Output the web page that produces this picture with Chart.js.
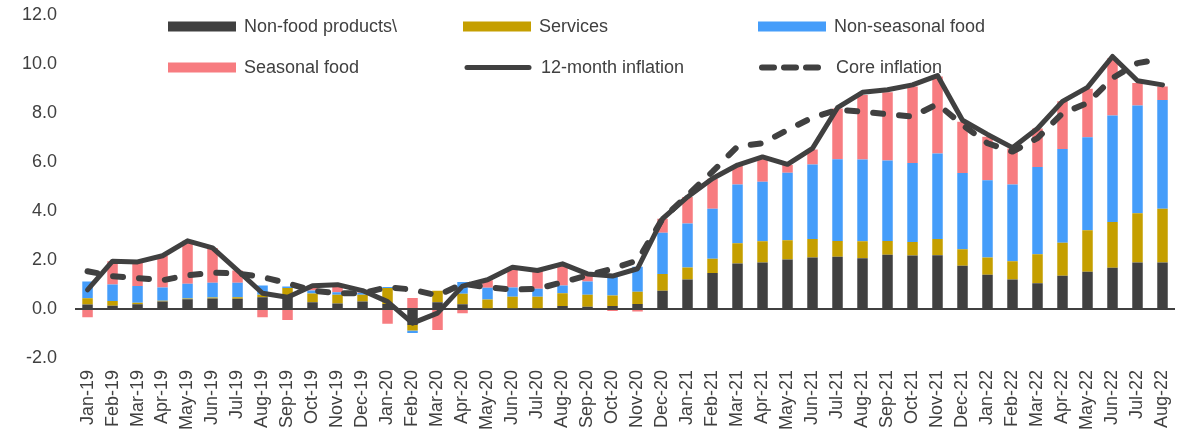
<!DOCTYPE html>
<html>
<head>
<meta charset="utf-8">
<script src="https://cdn.jsdelivr.net/npm/chart.js@4.4.0/dist/chart.umd.min.js"></script>
<style>
    html, body { margin: 0; padding: 0; background: #ffffff; }
    #wrap { position: relative; width: 1190px; height: 430px; }
    #legend { position: absolute; left: 0; top: 0; width: 100%; height: 0; }
    .leg-item {
        position: absolute;
        display: flex;
        align-items: center;
        font: 18px "Liberation Sans", Arial, sans-serif;
        color: #404040;
        white-space: nowrap;
        transform: translateY(-50%);
    }
    .leg-item svg { margin-right: 8px; }
</style>
</head>
<body>
<div id="wrap">
    <canvas id="chartInflacao" width="1190" height="430"></canvas>
    <div id="legend"></div>
</div>
<script>
// Contribuições à inflação de 12 meses (p.p.)

const meses = [
    'Jan-19', 'Feb-19', 'Mar-19', 'Apr-19', 'May-19', 'Jun-19', 'Jul-19', 'Aug-19', 'Sep-19', 'Oct-19', 'Nov-19', 'Dec-19',
    'Jan-20', 'Feb-20', 'Mar-20', 'Apr-20', 'May-20', 'Jun-20', 'Jul-20', 'Aug-20', 'Sep-20', 'Oct-20', 'Nov-20', 'Dec-20',
    'Jan-21', 'Feb-21', 'Mar-21', 'Apr-21', 'May-21', 'Jun-21', 'Jul-21', 'Aug-21', 'Sep-21', 'Oct-21', 'Nov-21', 'Dec-21',
    'Jan-22', 'Feb-22', 'Mar-22', 'Apr-22', 'May-22', 'Jun-22', 'Jul-22', 'Aug-22'
];

const naoAlimentos = [
    0.18, 0.13, 0.19, 0.30, 0.40, 0.43, 0.42, 0.48, 0.55, 0.27, 0.22, 0.30,
    0.20, -0.65, 0.27, 0.19, 0.02, 0.03, 0.03, 0.12, 0.09, 0.12, 0.20, 0.74,
    1.20, 1.47, 1.85, 1.89, 2.02, 2.10, 2.13, 2.07, 2.21, 2.18, 2.19, 1.76,
    1.40, 1.20, 1.05, 1.35, 1.52, 1.68, 1.89, 1.89
];

const servicos = [
    0.26, 0.19, 0.06, 0.03, 0.03, 0.04, 0.06, 0.10, 0.30, 0.36, 0.36, 0.28,
    0.65, -0.23, 0.47, 0.43, 0.37, 0.47, 0.47, 0.52, 0.49, 0.43, 0.50, 0.69,
    0.49, 0.58, 0.83, 0.87, 0.78, 0.75, 0.64, 0.69, 0.56, 0.55, 0.66, 0.68,
    0.70, 0.75, 1.18, 1.35, 1.69, 1.87, 2.01, 2.20
];

const alimNaoSazonais = [
    0.68, 0.68, 0.69, 0.55, 0.60, 0.60, 0.59, 0.38, 0.07, 0.12, 0.10, 0.08,
    0.05, -0.10, 0.00, 0.48, 0.48, 0.38, 0.32, 0.32, 0.54, 0.85, 1.02, 1.68,
    1.80, 2.04, 2.40, 2.43, 2.76, 3.04, 3.34, 3.34, 3.29, 3.22, 3.49, 3.11,
    3.15, 3.13, 3.56, 3.83, 3.79, 4.34, 4.40, 4.43
];

const alimSazonais = [
    -0.34, 0.95, 0.98, 1.29, 1.75, 1.42, 0.50, -0.34, -0.45, 0.20, 0.30, 0.09,
    -0.60, 0.45, -0.86, -0.18, 0.30, 0.82, 0.75, 0.86, 0.30, -0.08, -0.10, 0.57,
    1.08, 1.22, 0.79, 1.00, 0.31, 0.61, 2.07, 2.63, 2.78, 3.12, 3.14, 2.09,
    1.77, 1.47, 1.57, 1.94, 1.98, 2.34, 0.92, 0.56
];

const inflacao12m = [
    0.78, 1.95, 1.92, 2.17, 2.78, 2.49, 1.57, 0.64, 0.48, 0.95, 0.99, 0.75,
    0.30, -0.58, -0.17, 0.93, 1.19, 1.70, 1.57, 1.84, 1.43, 1.34, 1.64, 3.68,
    4.57, 5.32, 5.87, 6.20, 5.90, 6.55, 8.21, 8.84, 8.94, 9.14, 9.52, 7.70,
    7.12, 6.58, 7.36, 8.47, 9.04, 10.30, 9.31, 9.14
];

const nucleo = [
    1.54, 1.34, 1.26, 1.17, 1.37, 1.48, 1.45, 1.30, 1.05, 0.75, 0.64, 0.64,
    0.89, 0.79, 0.55, 1.02, 0.89, 0.79, 0.82, 1.09, 1.37, 1.64, 1.98, 3.68,
    4.64, 5.60, 6.63, 6.76, 7.30, 7.81, 8.12, 8.05, 7.94, 7.85, 8.36, 7.51,
    6.76, 6.42, 6.97, 7.98, 8.40, 9.42, 10.03, 10.20
];

const yTicks = [-2, 0, 2, 4, 6, 8, 10, 12];

const CINZA = '#404040';
const FONTE = '"Liberation Sans", Arial, sans-serif';

function barra(label, data, cor) {
    return {
        type: 'bar',
        label: label,
        data: data,
        backgroundColor: cor,
        borderWidth: 0,
        stack: 'contrib',
        order: 2,
        categoryPercentage: 1,
        barPercentage: 0.42
    };
}

function linha(label, data, largura, stackId, tracejado) {
    return {
        type: 'line',
        label: label,
        data: data,
        stack: stackId, // cada linha na sua pilha, para não somar
        borderColor: CINZA,
        borderWidth: largura,
        borderDash: tracejado || [],
        borderJoinStyle: 'round',
        borderCapStyle: 'round',
        pointRadius: 0,
        tension: 0,
        order: tracejado ? 1 : 0
    };
}

const datasets = [
    barra('Non-food products\\', naoAlimentos, '#404040'),
    barra('Services', servicos, '#C59F00'),
    barra('Non-seasonal food', alimNaoSazonais, '#459DFA'),
    barra('Seasonal food', alimSazonais, '#F77C80'),
    linha('12-month inflation', inflacao12m, 5, 'cheia'),
    linha('Core inflation', nucleo, 6, 'nucleo', [10, 16])
];

const ctx = document.getElementById('chartInflacao');

const inflacaoChart = new Chart(ctx, {
    data: { labels: meses, datasets: datasets },
    options: {
        responsive: false,
        animation: false,
        layout: { padding: { left: 18, right: 15, top: 0, bottom: -4 } },
        plugins: {
            legend: { display: false },
            tooltip: { enabled: false }
        },
        scales: {
            x: {
                stacked: true,
                grid: { display: false },
                border: { display: false },
                ticks: {
                    color: CINZA,
                    font: { family: FONTE, size: 18 },
                    maxRotation: 90,
                    minRotation: 90,
                    autoSkip: false,
                    padding: 4
                }
            },
            y: {
                stacked: true,
                min: -2,
                max: 12,
                afterBuildTicks: axis => {
                    axis.ticks = yTicks.map(v => ({ value: v }));
                },
                grid: {
                    drawTicks: true,
                    tickLength: 14,
                    tickColor: 'rgba(0,0,0,0)',
                    color: c => (c.tick && c.tick.value === 0 ? CINZA : 'rgba(0,0,0,0)'),
                    lineWidth: 2
                },
                border: { display: false },
                ticks: {
                    color: CINZA,
                    font: { family: FONTE, size: 18 },
                    padding: 4,
                    callback: v => Number(v).toFixed(1)
                }
            }
        }
    }
});

// Legenda em duas linhas e três colunas, sobre a área do gráfico
function montarLegenda(chart) {
    const box = document.getElementById('legend');
    const colunas = [168, 463, 758];
    const linhas = [26, 67];
    box.innerHTML = '';
    chart.data.datasets.forEach((ds, i) => {
        const item = document.createElement('div');
        item.className = 'leg-item';
        item.style.left = colunas[i % 3] + 'px';
        item.style.top = linhas[Math.floor(i / 3)] + 'px';

        let amostra;
        if (ds.type === 'bar') {
            amostra = `<svg width="68" height="12"><rect x="0" y="1" width="68" height="10" fill="${ds.backgroundColor}"/></svg>`;
        } else {
            const dash = ds.borderDash.length ? `stroke-dasharray="12 10"` : '';
            amostra = `<svg width="70" height="12"><line x1="4" y1="6" x2="66" y2="6" stroke="${ds.borderColor}" stroke-width="${ds.borderWidth}" stroke-linecap="round" ${dash}/></svg>`;
        }
        item.innerHTML = amostra + `<span>${ds.label}</span>`;
        box.appendChild(item);
    });
}

montarLegenda(inflacaoChart);
</script>
</body>
</html>
